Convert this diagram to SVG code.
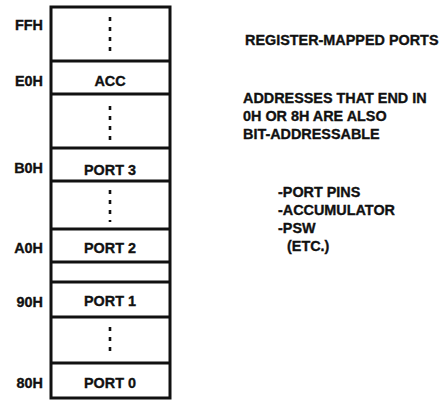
<svg xmlns="http://www.w3.org/2000/svg" width="448" height="400" viewBox="0 0 448 400">
<style>
text{font-family:"Liberation Sans",Arial,sans-serif;font-weight:bold;font-size:14.4px;fill:#111;stroke:#111;stroke-width:0.35}
.addr{text-anchor:end}
.cell{text-anchor:middle}
.div{stroke:#111;stroke-width:3;fill:none}
.dots{stroke:#111;stroke-width:2.6;stroke-dasharray:4 6;fill:none}
</style>
<rect width="448" height="400" fill="#fff"/>
<g id="memory-map">
<rect x="51" y="7" width="119" height="391" class="div"/>
<g id="cell-ff">
<text class="addr" x="43" y="30">FFH</text>
<line class="dots" x1="110" y1="17" x2="110" y2="52"/>
</g>
<g id="cell-acc">
<line class="div" x1="51" y1="61" x2="170" y2="61"/>
<text class="addr" x="43" y="86">E0H</text>
<text class="cell" x="110" y="86">ACC</text>
<line class="div" x1="51" y1="94" x2="170" y2="94"/>
</g>
<g id="cell-gap1">
<line class="dots" x1="110" y1="106" x2="110" y2="140"/>
</g>
<g id="cell-port3">
<line class="div" x1="51" y1="148" x2="170" y2="148"/>
<text class="addr" x="43" y="173">B0H</text>
<text class="cell" x="110" y="175">PORT 3</text>
<line class="div" x1="51" y1="181" x2="170" y2="181"/>
</g>
<g id="cell-gap2">
<line class="dots" x1="110" y1="190" x2="110" y2="222"/>
</g>
<g id="cell-port2">
<line class="div" x1="51" y1="229" x2="170" y2="229"/>
<text class="addr" x="43" y="253">A0H</text>
<text class="cell" x="110" y="253">PORT 2</text>
<line class="div" x1="51" y1="262" x2="170" y2="262"/>
</g>
<g id="cell-port1">
<line class="div" x1="51" y1="282" x2="170" y2="282"/>
<text class="addr" x="43" y="307">90H</text>
<text class="cell" x="110" y="306">PORT 1</text>
<line class="div" x1="51" y1="317" x2="170" y2="317"/>
</g>
<g id="cell-gap3">
<line class="dots" x1="110" y1="327" x2="110" y2="357"/>
</g>
<g id="cell-port0">
<line class="div" x1="51" y1="363" x2="170" y2="363"/>
<text class="addr" x="43" y="388">80H</text>
<text class="cell" x="110" y="388">PORT 0</text>
</g>
</g>
<g id="connectors"/>
<g id="notes">
<text x="245" y="45">REGISTER-MAPPED PORTS</text>
<text x="243" y="103">ADDRESSES THAT END IN</text>
<text x="243" y="121">0H OR 8H ARE ALSO</text>
<text x="243" y="139">BIT-ADDRESSABLE</text>
<text x="278" y="197">-PORT PINS</text>
<text x="278" y="215">-ACCUMULATOR</text>
<text x="278" y="233">-PSW</text>
<text x="287" y="251">(ETC.)</text>
</g>
</svg>
